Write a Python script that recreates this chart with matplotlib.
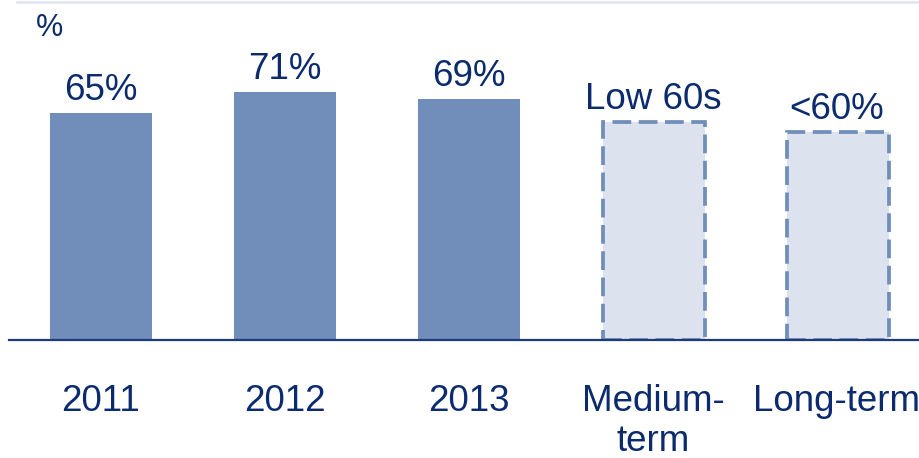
import matplotlib.pyplot as plt
from matplotlib.lines import Line2D

plt.rcParams['font.family'] = ['Liberation Sans', 'DejaVu Sans']

# Ratio by year, then outlook targets
categories = ['2011', '2012', '2013', 'Medium-\nterm', 'Long-term']
values = [65, 71, 69, 62.5, 59.5]
value_labels = ['65%', '71%', '69%', 'Low 60s', '<60%']
is_target = [False, False, False, True, True]

navy = '#0b2b6e'
bar_blue = '#708eb9'
light_fill = '#dde3ee'

fig = plt.figure(figsize=(9.19, 4.58), dpi=100)
ax = fig.add_axes([9 / 919, 118 / 458, 910 / 919, 340 / 458])

x = list(range(len(categories)))
for xi, v, target in zip(x, values, is_target):
    if target:
        ax.bar(xi + 0.007, v, width=0.555, facecolor=light_fill, edgecolor=bar_blue,
               linewidth=2.7, linestyle=(0, (5, 2)))
    else:
        ax.bar(xi, v, width=0.555, color=bar_blue)

# value labels above bars
for xi, v, lab in zip(x, values, value_labels):
    ax.annotate(lab, xy=(xi, v), xytext=(0, 9.5), textcoords='offset points',
                ha='center', va='baseline', fontsize=26.5, color=navy)

# category labels under the baseline
for xi, cat in zip(x, categories):
    ax.annotate(cat, xy=(xi, 0), xytext=(0, -31.5), textcoords='offset points',
                ha='center', va='top', fontsize=26.5, color=navy,
                linespacing=1.2, annotation_clip=False)

ax.set_xlim(-0.5, (919 - 101) / 184)
ax.set_ylim(0, 340 / 3.49)
for s in ['top', 'left', 'right']:
    ax.spines[s].set_visible(False)
ax.spines['bottom'].set_color('#1d3b7b')
ax.spines['bottom'].set_linewidth(1.6)
ax.set_xticks([])
ax.set_yticks([])
ax.patch.set_visible(False)

# unit marker and thin header rule
fig.text(36 / 919, 1 - 36 / 458, '%', fontsize=22, color=navy, ha='left', va='baseline')
fig.add_artist(Line2D([17 / 919, 1], [1 - 1.5 / 458, 1 - 1.5 / 458],
                      color='#dfe5f0', linewidth=1.8))

fig.savefig('out.png', dpi=100)
